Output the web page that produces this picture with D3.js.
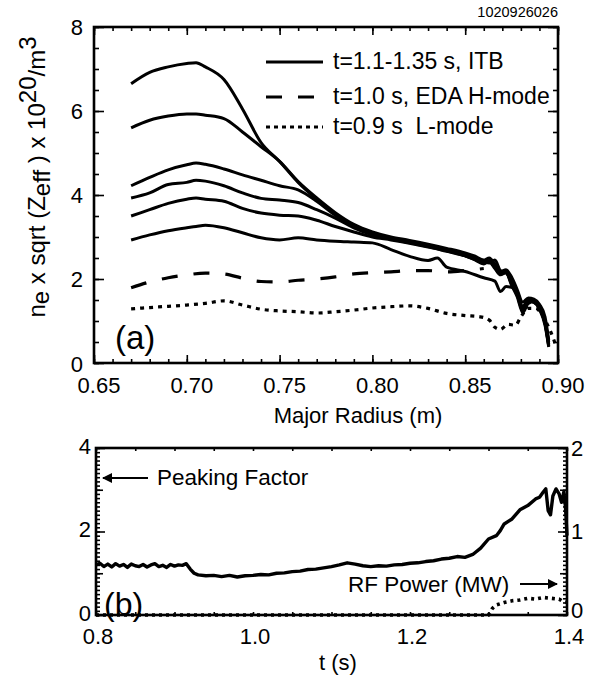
<!DOCTYPE html>
<html>
<head>
<meta charset="utf-8">
<script src="https://cdn.jsdelivr.net/npm/d3@7"></script>
<style>
body { margin: 0; background: #fff; }
svg text { font-family: "Liberation Sans", Arial, sans-serif; fill: #000; }
.axis path { display: none; }
.axis line { stroke: #000; stroke-width: 1.6; }
</style>
</head>
<body>
<div id="chart"></div>
<script>
// ---- panel (a): density profiles ----
var rITB = [0.670, 0.680, 0.690, 0.700, 0.705, 0.710, 0.720, 0.730, 0.740, 0.750, 0.760, 0.770, 0.780, 0.790, 0.800, 0.810, 0.820, 0.830, 0.840, 0.850, 0.855, 0.860, 0.863, 0.866, 0.869, 0.872, 0.875, 0.878, 0.881, 0.884, 0.887, 0.890, 0.893, 0.895];
var itb1 = [6.65, 6.92, 7.05, 7.13, 7.15, 7.05, 6.75, 6.05, 5.25, 4.80, 4.30, 3.90, 3.55, 3.28, 3.10, 2.98, 2.90, 2.80, 2.70, 2.58, 2.50, 2.42, 2.38, 2.45, 2.20, 2.15, 1.95, 1.70, 1.35, 1.50, 1.48, 1.35, 1.00, 0.45];
var itb2 = [5.60, 5.78, 5.88, 5.93, 5.93, 5.90, 5.82, 5.50, 5.15, 4.80, 4.32, 3.93, 3.58, 3.30, 3.12, 3.00, 2.92, 2.83, 2.73, 2.62, 2.55, 2.45, 2.50, 2.35, 2.18, 2.22, 2.05, 1.75, 1.45, 1.55, 1.52, 1.40, 1.10, 0.55];
var itb3 = [4.22, 4.42, 4.60, 4.72, 4.76, 4.73, 4.62, 4.48, 4.35, 4.22, 4.12, 3.85, 3.52, 3.25, 3.08, 2.97, 2.88, 2.79, 2.68, 2.56, 2.48, 2.40, 2.44, 2.28, 2.12, 2.18, 1.90, 1.62, 1.25, 1.45, 1.50, 1.30, 0.95, 0.40];
var itb4 = [3.93, 4.05, 4.25, 4.30, 4.35, 4.33, 4.22, 4.05, 3.92, 3.88, 3.82, 3.65, 3.45, 3.22, 3.05, 2.95, 2.86, 2.77, 2.66, 2.55, 2.47, 2.38, 2.40, 2.25, 2.10, 2.15, 1.85, 1.58, 1.20, 1.42, 1.46, 1.28, 0.90, 0.38];
var itb5 = [3.50, 3.65, 3.80, 3.90, 3.93, 3.90, 3.85, 3.68, 3.57, 3.52, 3.50, 3.40, 3.25, 3.12, 3.00, 2.93, 2.85, 2.76, 2.67, 2.55, 2.46, 2.36, 2.42, 2.30, 2.12, 2.16, 1.88, 1.66, 1.30, 1.48, 1.44, 1.33, 0.98, 0.50];
var rITB6 = [0.670, 0.680, 0.690, 0.700, 0.705, 0.710, 0.720, 0.730, 0.740, 0.750, 0.760, 0.770, 0.780, 0.790, 0.800, 0.810, 0.820, 0.830, 0.835, 0.840, 0.850, 0.860, 0.866, 0.869, 0.872, 0.875, 0.878, 0.881, 0.884, 0.887, 0.890, 0.893, 0.895];
var itb6 = [2.93, 3.05, 3.15, 3.22, 3.25, 3.28, 3.22, 3.10, 2.98, 2.93, 2.98, 2.93, 2.90, 2.88, 2.86, 2.70, 2.54, 2.44, 2.50, 2.28, 2.18, 2.03, 1.95, 1.70, 1.82, 1.80, 1.65, 1.32, 1.48, 1.45, 1.30, 0.95, 0.42];
var rEDA = [0.670, 0.680, 0.690, 0.700, 0.710, 0.720, 0.730, 0.740, 0.750, 0.760, 0.770, 0.780, 0.790, 0.800, 0.810, 0.820, 0.830, 0.840, 0.850, 0.860];
var eda = [1.79, 1.93, 2.03, 2.10, 2.14, 2.12, 2.02, 1.94, 1.93, 1.97, 2.00, 2.05, 2.12, 2.15, 2.17, 2.20, 2.20, 2.17, 2.20, 2.25];
var rL = [0.670, 0.680, 0.690, 0.700, 0.710, 0.720, 0.730, 0.740, 0.750, 0.760, 0.770, 0.780, 0.790, 0.800, 0.810, 0.820, 0.830, 0.840, 0.850, 0.858, 0.863, 0.866, 0.869, 0.873, 0.877, 0.880, 0.884, 0.888, 0.892, 0.896, 0.899];
var lmode = [1.29, 1.32, 1.35, 1.38, 1.42, 1.48, 1.38, 1.28, 1.24, 1.22, 1.19, 1.22, 1.26, 1.31, 1.34, 1.36, 1.30, 1.18, 1.13, 1.10, 1.02, 0.85, 0.80, 0.92, 0.90, 1.10, 1.30, 1.30, 1.10, 0.75, 0.40];
var legendLabels = ["t=1.1-1.35 s, ITB", "t=1.0 s, EDA H-mode", "t=0.9 s\u00a0 L-mode"];
var xTicksA = [0.65, 0.70, 0.75, 0.80, 0.85, 0.90];
var yTicksA = [0, 2, 4, 6, 8];

// ---- panel (b): time traces ----
var tPF = [0.800, 0.805, 0.810, 0.815, 0.820, 0.825, 0.830, 0.835, 0.840, 0.845, 0.850, 0.855, 0.860, 0.865, 0.870, 0.875, 0.880, 0.885, 0.890, 0.895, 0.900, 0.905, 0.910, 0.915, 0.92, 0.925, 0.93, 0.94, 0.95, 0.96, 0.97, 0.98, 0.99, 1.00, 1.01, 1.02, 1.03, 1.04, 1.05, 1.06, 1.07, 1.08, 1.09, 1.10, 1.11, 1.12, 1.13, 1.14, 1.15, 1.16, 1.17, 1.18, 1.19, 1.20, 1.21, 1.22, 1.23, 1.24, 1.25, 1.26, 1.27, 1.28, 1.29, 1.30, 1.31, 1.315, 1.32, 1.33, 1.34, 1.35, 1.36, 1.365, 1.37, 1.373, 1.376, 1.379, 1.382, 1.386, 1.39, 1.393, 1.396, 1.398, 1.40];
var peaking = [1.20, 1.24, 1.16, 1.22, 1.15, 1.23, 1.17, 1.21, 1.14, 1.22, 1.18, 1.16, 1.21, 1.15, 1.20, 1.23, 1.16, 1.19, 1.14, 1.21, 1.17, 1.20, 1.19, 1.23, 1.10, 1.00, 0.96, 0.94, 0.95, 0.92, 0.95, 0.91, 0.94, 0.95, 0.97, 0.96, 1.00, 1.01, 1.04, 1.05, 1.09, 1.10, 1.13, 1.16, 1.20, 1.25, 1.22, 1.18, 1.16, 1.18, 1.17, 1.20, 1.21, 1.24, 1.25, 1.28, 1.30, 1.34, 1.36, 1.40, 1.38, 1.45, 1.60, 1.82, 1.90, 2.02, 2.18, 2.30, 2.52, 2.62, 2.78, 2.82, 2.95, 3.02, 2.50, 2.40, 2.85, 3.02, 2.90, 2.70, 2.95, 2.60, 1.90];
var tRF = [0.80, 1.300, 1.305, 1.31, 1.32, 1.33, 1.34, 1.35, 1.36, 1.37, 1.38, 1.39, 1.395, 1.40];
var rfPower = [0, 0, 0.08, 0.12, 0.15, 0.17, 0.18, 0.20, 0.19, 0.21, 0.20, 0.19, 0.16, 0.15];
var xTicksB = [0.8, 1.0, 1.2, 1.4];
var yTicksB = [0, 2, 4];
var y2TicksB = [0, 1, 2];

var svg = d3.select("#chart").append("svg")
    .attr("width", 593)
    .attr("height", 679);

var fs = 22;

// scales
var xA = d3.scaleLinear().domain([0.65, 0.90]).range([94, 558]);
var yA = d3.scaleLinear().domain([0, 8]).range([363, 27]);
var xB = d3.scaleLinear().domain([0.8, 1.4]).range([96, 567]);
var yB = d3.scaleLinear().domain([0, 4]).range([615, 448]);
var yB2 = d3.scaleLinear().domain([0, 2]).range([615, 448]);

// helper: draw a tick set with no labels
function ticksOnly(axisFn, scale, values, size, transform) {
    svg.append("g")
        .attr("class", "axis")
        .attr("transform", transform)
        .call(axisFn(scale).tickValues(values).tickSize(size).tickFormat(""));
}

// ---- panel (a) axes ----
var minorXA = d3.range(0.65, 0.9001, 0.01);
var minorYA = d3.range(0, 8.001, 0.5);
ticksOnly(d3.axisBottom, xA, minorXA, -4, "translate(0,363)");
ticksOnly(d3.axisBottom, xA, xTicksA, -8, "translate(0,363)");
ticksOnly(d3.axisTop, xA, minorXA, -4, "translate(0,27)");
ticksOnly(d3.axisTop, xA, xTicksA, -8, "translate(0,27)");
ticksOnly(d3.axisLeft, yA, minorYA, -5, "translate(94,0)");
ticksOnly(d3.axisLeft, yA, yTicksA, -10, "translate(94,0)");
ticksOnly(d3.axisRight, yA, minorYA, -5, "translate(558,0)");
ticksOnly(d3.axisRight, yA, yTicksA, -10, "translate(558,0)");

svg.append("rect")
    .attr("x", 94).attr("y", 27)
    .attr("width", 558 - 94).attr("height", 363 - 27)
    .attr("fill", "none").attr("stroke", "#000").attr("stroke-width", 2.6);

// tick labels
svg.append("g").selectAll("text")
    .data(xTicksA)
    .enter()
    .append("text")
    .attr("x", d => xA(d) + 5)
    .attr("y", 393)
    .attr("text-anchor", "middle")
    .style("font-size", fs + "px")
    .text(d => d3.format(".2f")(d));

svg.append("g").selectAll("text")
    .data(yTicksA)
    .enter()
    .append("text")
    .attr("x", 83)
    .attr("y", d => yA(d) + (d === 0 ? 1 : 0))
    .attr("dy", "0.36em")
    .attr("text-anchor", "end")
    .style("font-size", fs + "px")
    .text(d => d);

// axis titles
svg.append("text")
    .attr("x", 358)
    .attr("y", 423)
    .attr("text-anchor", "middle")
    .style("font-size", fs + "px")
    .text("Major Radius (m)");

var ylab = svg.append("text")
    .attr("transform", "translate(45,177) rotate(-90)")
    .attr("text-anchor", "middle")
    .style("font-size", "24px");
ylab.append("tspan").text("n");
ylab.append("tspan").attr("dy", 4).text("e");
ylab.append("tspan").attr("dy", -4).text(" x sqrt (Z");
ylab.append("tspan").attr("dy", 5).text("eff");
ylab.append("tspan").attr("dy", -5).text(" ) x 10");
ylab.append("tspan").attr("dy", -9).text("20");
ylab.append("tspan").attr("dy", 9).text("/m");
ylab.append("tspan").attr("dy", -9).text("3");

svg.append("text")
    .attr("x", 558)
    .attr("y", 17)
    .attr("text-anchor", "end")
    .style("font-size", "14.5px")
    .text("1020926026");

svg.append("text")
    .attr("x", 115)
    .attr("y", 349)
    .style("font-size", "33px")
    .text("(a)");

// profiles
function profile(rs, vs) {
    return rs.map((r, i) => [r, vs[i]]);
}
var lineA = d3.line()
    .x(d => xA(d[0]))
    .y(d => yA(d[1]))
    .curve(d3.curveMonotoneX);

var itbSeries = [
    profile(rITB, itb1), profile(rITB, itb2), profile(rITB, itb3),
    profile(rITB, itb4), profile(rITB, itb5), profile(rITB6, itb6)
];

svg.append("g").selectAll("path")
    .data(itbSeries)
    .enter()
    .append("path")
    .attr("d", lineA)
    .attr("fill", "none")
    .attr("stroke", "#000")
    .attr("stroke-width", 3)
    .attr("stroke-linejoin", "round");

svg.append("path")
    .attr("d", lineA(profile(rEDA, eda)))
    .attr("fill", "none")
    .attr("stroke", "#000")
    .attr("stroke-width", 3.2)
    .attr("stroke-dasharray", "16,16");

svg.append("path")
    .attr("d", lineA(profile(rL, lmode)))
    .attr("fill", "none")
    .attr("stroke", "#000")
    .attr("stroke-width", 3.2)
    .attr("stroke-dasharray", "4,5");

// legend
var legendDash = [null, "16,16", "4,4"];
var legendY = [62, 97, 127];
legendLabels.forEach(function(lbl, i) {
    svg.append("line")
        .attr("x1", 266).attr("x2", 323)
        .attr("y1", legendY[i]).attr("y2", legendY[i])
        .attr("stroke", "#000")
        .attr("stroke-width", 3.2)
        .attr("stroke-dasharray", legendDash[i]);
    svg.append("text")
        .attr("x", 333)
        .attr("y", legendY[i] + 7)
        .style("font-size", "23px")
        .text(lbl);
});

// ---- panel (b) axes ----
ticksOnly(d3.axisBottom, xB, d3.range(0.8, 1.4001, 0.05), -3, "translate(0,615)");
ticksOnly(d3.axisTop, xB, d3.range(0.8, 1.4001, 0.05), -3, "translate(0,448)");
ticksOnly(d3.axisLeft, yB, d3.range(0, 4.001, 0.1), -4, "translate(96,0)");
ticksOnly(d3.axisLeft, yB, [1, 3], -7, "translate(96,0)");
ticksOnly(d3.axisLeft, yB, yTicksB, -9, "translate(96,0)");
ticksOnly(d3.axisRight, yB2, d3.range(0, 2.001, 0.05), -4, "translate(567,0)");
ticksOnly(d3.axisRight, yB2, [0.5, 1.5], -7, "translate(567,0)");
ticksOnly(d3.axisRight, yB2, y2TicksB, -9, "translate(567,0)");

svg.append("rect")
    .attr("x", 96).attr("y", 448)
    .attr("width", 567 - 96).attr("height", 615 - 448)
    .attr("fill", "none").attr("stroke", "#000").attr("stroke-width", 2.6);

svg.append("g").selectAll("text")
    .data(xTicksB)
    .enter()
    .append("text")
    .attr("x", d => xB(d) + 2)
    .attr("y", 644)
    .attr("text-anchor", "middle")
    .style("font-size", fs + "px")
    .text(d => d3.format(".1f")(d));

svg.append("g").selectAll("text")
    .data(yTicksB)
    .enter()
    .append("text")
    .attr("x", 91)
    .attr("y", d => yB(d) - 2)
    .attr("dy", "0.36em")
    .attr("text-anchor", "end")
    .style("font-size", fs + "px")
    .text(d => d);

svg.append("g").selectAll("text")
    .data(y2TicksB)
    .enter()
    .append("text")
    .attr("x", 571)
    .attr("y", d => yB2(d) - (d === 0 ? 5 : 0))
    .attr("dy", "0.36em")
    .attr("text-anchor", "start")
    .style("font-size", fs + "px")
    .text(d => d);

svg.append("text")
    .attr("x", 338)
    .attr("y", 670)
    .attr("text-anchor", "middle")
    .style("font-size", fs + "px")
    .text("t (s)");

svg.append("text")
    .attr("x", 104)
    .attr("y", 615)
    .style("font-size", "32px")
    .text("(b)");

// arrow marker
svg.append("defs").append("marker")
    .attr("id", "arrow")
    .attr("viewBox", "0 0 10 10")
    .attr("refX", 9).attr("refY", 5)
    .attr("markerWidth", 5).attr("markerHeight", 5)
    .attr("orient", "auto")
    .append("path")
    .attr("d", "M0,0 L10,5 L0,10 z")
    .attr("fill", "#000");

svg.append("line")
    .attr("x1", 148).attr("x2", 103)
    .attr("y1", 478).attr("y2", 478)
    .attr("stroke", "#000").attr("stroke-width", 2)
    .attr("marker-end", "url(#arrow)");
svg.append("text")
    .attr("x", 157)
    .attr("y", 485)
    .style("font-size", "22.5px")
    .text("Peaking Factor");

svg.append("line")
    .attr("x1", 520).attr("x2", 557)
    .attr("y1", 584).attr("y2", 584)
    .attr("stroke", "#000").attr("stroke-width", 2)
    .attr("marker-end", "url(#arrow)");
svg.append("text")
    .attr("x", 348)
    .attr("y", 592)
    .style("font-size", "22.5px")
    .text("RF Power (MW)");

// time traces
var linePF = d3.line()
    .x(d => xB(d[0]))
    .y(d => yB(d[1]));
var lineRF = d3.line()
    .x(d => xB(d[0]))
    .y(d => yB2(d[1]));

svg.append("path")
    .attr("d", linePF(profile(tPF, peaking)))
    .attr("fill", "none")
    .attr("stroke", "#000")
    .attr("stroke-width", 3.4)
    .attr("stroke-linejoin", "round");

svg.append("path")
    .attr("d", lineRF(profile(tRF, rfPower)))
    .attr("fill", "none")
    .attr("stroke", "#000")
    .attr("stroke-width", 3.6)
    .attr("stroke-dasharray", "3,4");
</script>
</body>
</html>
